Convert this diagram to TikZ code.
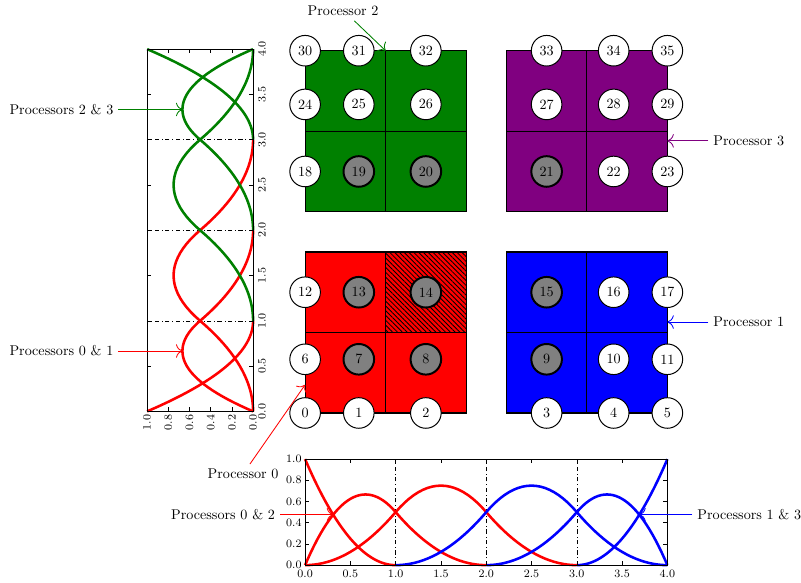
\documentclass[tikz,border=0pt]{standalone}
\usepackage{tikz}
\usetikzlibrary{arrows.meta,positioning,patterns.meta}
\definecolor{pgreen}{RGB}{0,128,0}
\definecolor{ppurple}{RGB}{128,0,128}
\tikzset{
  >={To[length=1.6mm]},
  dof/.style={circle,draw,fill=white,line width=0.7pt,minimum size=7.6mm,inner sep=0pt},
  gdof/.style={dof,fill=gray,line width=1.4pt},
  cell/.style={draw=black,line width=0.8pt},
  curve/.style={line width=1.8pt,samples=61},
  plotframe/.style={line width=0.7pt},
  tickmark/.style={line width=0.4pt},
  ticklab/.style={font=\footnotesize,inner sep=1pt},
  guide/.style={dash dot,line width=0.4pt},
  lab/.style={font=\normalsize},
  arr/.style={->,line width=0.6pt},
}

\begin{document}
\begin{tikzpicture}[x=2cm,y=2cm,
  declare function={
    bz(\u)=(1-\u)*(1-\u);
    bo(\u)=(\u<1)*(2*\u-1.5*\u*\u)+(\u>=1)*0.5*(2-\u)*(2-\u);
    bt(\u)=(\u<1)*0.5*\u*\u+(\u>=1)*(\u<2)*(-\u*\u+3*\u-1.5)+(\u>=2)*0.5*(3-\u)*(3-\u);
  }]
\useasboundingbox (-3.79,-2.11) rectangle (6.16,5.13);

% subdomains
\foreach \ox/\oy/\c in {0/0/red,2.5/0/blue,0/2.5/pgreen,2.5/2.5/ppurple}
  \fill[\c] (\ox,\oy) rectangle ++(2,2);
\fill[pattern={Lines[angle=-45,distance=2.4pt,line width=0.6pt]}] (1,1) rectangle (2,2);
\foreach \ox/\oy in {0/0,2.5/0,0/2.5,2.5/2.5}
  \draw[cell] (\ox,\oy) rectangle ++(2,2) (\ox+1,\oy) -- ++(0,2) (\ox,\oy+1) -- ++(2,0);

% dofs
\foreach \y [count=\j from 0] in {0,0.667,1.5,3,3.833,4.5}
  \foreach \x [count=\i from 0] in {0,0.667,1.5,3,3.833,4.5} {
    \pgfmathtruncatemacro\k{6*\j+\i}
    \pgfmathtruncatemacro\g{(\i>0)*(\i<4)*(\j>0)*(\j<4)}
    \ifnum\g=1 \node[gdof] (n\k) at (\x,\y) {\k};
    \else \node[dof] (n\k) at (\x,\y) {\k}; \fi
  }

% basis functions in x
\begin{scope}[shift={(0,-1.89)},xscale=1.125,yscale=1.317]
  \draw[guide] foreach \t in {1,2,3} {(\t,0) -- (\t,1)};
  \draw[curve,red] plot[domain=0:1] (\x,{bz(\x)});
  \draw[curve,red] plot[domain=0:2] (\x,{bo(\x)});
  \draw[curve,red] plot[domain=0:3] (\x,{bt(\x)});
  \draw[curve,blue] plot[domain=1:4] (\x,{bt(\x-1)});
  \draw[curve,blue] plot[domain=2:4] (\x,{bo(4-\x)});
  \draw[curve,blue] plot[domain=3:4] (\x,{bz(4-\x)});
  \draw[plotframe] (0,0) rectangle (4,1);
  \foreach \t in {0.0,0.5,1.0,1.5,2.0,2.5,3.0,3.5,4.0} {
    \draw[tickmark] (\t,0) -- ++(0,0.038) (\t,1) -- ++(0,-0.038);
    \node[ticklab,anchor=north] at (\t,-0.03) {\t};
  }
  \foreach \v in {0.0,0.2,0.4,0.6,0.8,1.0} {
    \draw[tickmark] (0,\v) -- ++(0.044,0) (4,\v) -- ++(-0.044,0);
    \node[ticklab,anchor=east] at (-0.02,\v) {\v};
  }
  \coordinate (p02) at (0.3101,0.4762);
  \coordinate (p13) at (3.6899,0.4762);
\end{scope}

% basis functions in y
\begin{scope}[shift={(-0.646,0.02)},rotate=90,xscale=1.125,yscale=1.317]
  \draw[guide] foreach \t in {1,2,3} {(\t,0) -- (\t,1)};
  \draw[curve,red] plot[domain=0:1] (\x,{bz(\x)});
  \draw[curve,red] plot[domain=0:2] (\x,{bo(\x)});
  \draw[curve,red] plot[domain=0:3] (\x,{bt(\x)});
  \draw[curve,pgreen] plot[domain=1:4] (\x,{bt(\x-1)});
  \draw[curve,pgreen] plot[domain=2:4] (\x,{bo(4-\x)});
  \draw[curve,pgreen] plot[domain=3:4] (\x,{bz(4-\x)});
  \draw[plotframe] (0,0) rectangle (4,1);
  \foreach \t in {0.0,0.5,1.0,1.5,2.0,2.5,3.0,3.5,4.0} {
    \draw[tickmark] (\t,0) -- ++(0,0.038) (\t,1) -- ++(0,-0.038);
    \node[ticklab,anchor=north,rotate=90] at (\t,-0.03) {\t};
  }
  \foreach \v in {0.0,0.2,0.4,0.6,0.8,1.0} {
    \draw[tickmark] (0,\v) -- ++(0.044,0) (4,\v) -- ++(-0.044,0);
    \node[ticklab,anchor=east,rotate=90] at (-0.02,\v) {\v};
  }
  \coordinate (p01) at (2/3,2/3);
  \coordinate (p23) at (10/3,2/3);
\end{scope}

% labels
\node[lab,left=1.59cm of p01] (l01) {Processors 0 \& 1};
\node[lab,left=1.59cm of p23] (l23) {Processors 2 \& 3};
\node[lab,left=1.32cm of p02] (l02) {Processors 0 \& 2};
\node[lab,right=1.32cm of p13] (l13) {Processors 1 \& 3};
\draw[arr,red] (l01) -- (p01);
\draw[arr,pgreen] (l23) -- (p23);
\draw[arr,red] (l02) -- (p02);
\draw[arr,blue] (l13) -- (p13);

\coordinate (e0) at (0,0.35);
\coordinate (e1) at (4.5,1.13);
\coordinate (e2) at (1,4.5);
\coordinate (e3) at (4.5,3.38);
\node[lab] (l0) at (-0.77,-0.758) {Processor 0};
\node[lab,right=1.02cm of e1] (l1) {Processor 1};
\node[lab] (l2) at (0.472,4.994) {Processor 2};
\node[lab,right=1.02cm of e3] (l3) {Processor 3};
\draw[arr,red] ([xshift=0.17cm]l0.north) -- (e0);
\draw[arr,blue] (l1) -- (e1);
\draw[arr,pgreen] ([xshift=0.28cm]l2.south) -- (e2);
\draw[arr,ppurple] (l3) -- (e3);
\end{tikzpicture}
\end{document}
